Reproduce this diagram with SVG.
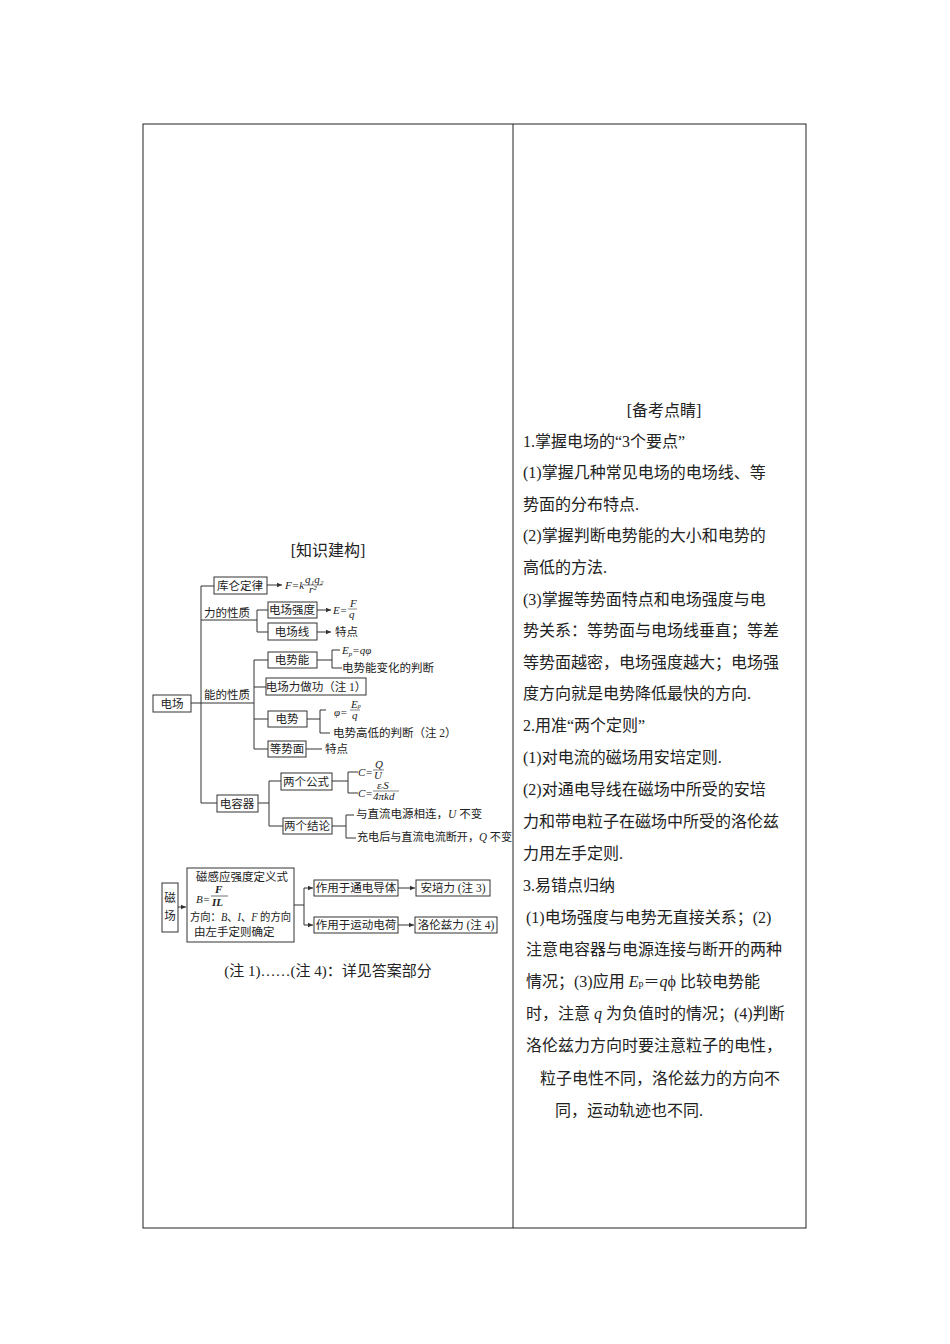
<svg xmlns="http://www.w3.org/2000/svg" width="950" height="1344" viewBox="0 0 950 1344">
<style>
text{font-family:"Liberation Serif","Noto Sans CJK SC",serif;fill:#222}
.r{font-size:16px}
.d{font-size:11.5px}
.f{font-size:11px;font-style:italic}
.b{fill:#fff;stroke:#333;stroke-width:1}
.l{fill:none;stroke:#333;stroke-width:1}
</style>
<defs><marker id="a" markerWidth="6" markerHeight="6" refX="5" refY="3" orient="auto"><path d="M0,0.8L5,3L0,5.2z" fill="#333"/></marker></defs>
<rect x="143" y="124" width="663" height="1104" fill="none" stroke="#222"/>
<line x1="513" y1="124" x2="513" y2="1228" stroke="#222"/>
<g id="right-text" class="r">
<text x="664" y="416" text-anchor="middle" class="r">[备考点睛]</text>
<text x="523" y="447" class="r">1.掌握电场的“3个要点”</text>
<text x="523" y="478" class="r">(1)掌握几种常见电场的电场线、等</text>
<text x="523" y="510" class="r">势面的分布特点.</text>
<text x="523" y="541" class="r">(2)掌握判断电势能的大小和电势的</text>
<text x="523" y="573" class="r">高低的方法.</text>
<text x="523" y="605" class="r">(3)掌握等势面特点和电场强度与电</text>
<text x="523" y="636" class="r">势关系：等势面与电场线垂直；等差</text>
<text x="523" y="668" class="r">等势面越密，电场强度越大；电场强</text>
<text x="523" y="699" class="r">度方向就是电势降低最快的方向.</text>
<text x="523" y="731" class="r">2.用准“两个定则”</text>
<text x="523" y="763" class="r">(1)对电流的磁场用安培定则.</text>
<text x="523" y="795" class="r">(2)对通电导线在磁场中所受的安培</text>
<text x="523" y="827" class="r">力和带电粒子在磁场中所受的洛伦兹</text>
<text x="523" y="859" class="r">力用左手定则.</text>
<text x="523" y="891" class="r">3.易错点归纳</text>
<text x="526" y="923" class="r">(1)电场强度与电势无直接关系；(2)</text>
<text x="526" y="955" class="r">注意电容器与电源连接与断开的两种</text>
<text x="526" y="987" class="r">情况；(3)应用 <tspan font-style="italic">E</tspan><tspan font-size="10">p</tspan>＝<tspan font-style="italic">q</tspan>ϕ 比较电势能</text>
<text x="526" y="1019" class="r">时，注意 <tspan font-style="italic">q</tspan> 为负值时的情况；(4)判断</text>
<text x="526" y="1051" class="r">洛伦兹力方向时要注意粒子的电性，</text>
<text x="540" y="1084" class="r">粒子电性不同，洛伦兹力的方向不</text>
<text x="555" y="1116" class="r">同，运动轨迹也不同.</text>
</g>
<text x="328" y="556" text-anchor="middle" class="r" font-size="15">[知识建构]</text>
<g id="connectors">
<path class="l" d="M191,703H201M201,586V803H217M201,586H214" />
<path class="l" d="M201,620H257M257,610V632M257,610H268M257,632H268"/>
<path class="l" d="M201,703H254M254,660V749H268M254,660H268M254,687H266M254,719H268"/>
<path class="l" d="M317,660H332M332,650V668H342M332,650H340"/>
<path class="l" d="M307,719H320M320,710V733H330M320,710H326"/>
<path class="l" d="M306,749H322"/>
<path class="l" d="M258,803H269M269,781V826H283M269,781H281"/>
<path class="l" d="M332,781H348M348,772V793H358M348,772H358"/>
<path class="l" d="M332,826H346M346,815V838H356M346,815H354"/>
<path class="l" marker-end="url(#a)" d="M267,585H282"/>
<path class="l" marker-end="url(#a)" d="M317,610H331"/>
<path class="l" marker-end="url(#a)" d="M317,632H331"/>
<path class="l" marker-end="url(#a)" d="M178,907H186"/>
<path class="l" d="M294,905H304M304,888V925"/>
<path class="l" marker-end="url(#a)" d="M304,888H313"/>
<path class="l" marker-end="url(#a)" d="M304,925H313"/>
<path class="l" marker-end="url(#a)" d="M398,888H415"/>
<path class="l" marker-end="url(#a)" d="M398,925H414"/>
</g>
<g id="n-dianchang"><rect class="b" x="153" y="695" width="38" height="17"/><text class="d" x="172" y="708" text-anchor="middle">电场</text></g>
<g id="n-kulun"><rect class="b" x="214" y="577" width="53" height="17"/><text class="d" x="240" y="590" text-anchor="middle">库仑定律</text></g>
<text class="f" x="285" y="589">F=k</text><text class="f" x="305" y="583" font-size="8">q₁q₂</text>
<line x1="304" y1="585" x2="322" y2="585" stroke="#333" stroke-width="0.6"/><text class="f" x="309" y="593" font-size="7">r²</text>
<text class="d" x="204" y="617">力的性质</text>
<g id="n-qiangdu"><rect class="b" x="268" y="602" width="49" height="16"/><text class="d" x="292" y="614" text-anchor="middle">电场强度</text></g>
<text class="f" x="333" y="614">E=</text><text class="f" x="350" y="607" font-size="9">F</text><line x1="348" y1="609" x2="357" y2="609" stroke="#333" stroke-width="0.6"/><text class="f" x="349" y="618" font-size="9">q</text>
<g id="n-xian"><rect class="b" x="268" y="623" width="49" height="17"/><text class="d" x="292" y="636" text-anchor="middle">电场线</text></g>
<text class="d" x="335" y="636">特点</text>
<text class="d" x="204" y="699">能的性质</text>
<g id="n-shineng"><rect class="b" x="268" y="652" width="49" height="16"/><text class="d" x="292" y="664" text-anchor="middle">电势能</text></g>
<text class="f" x="342" y="654">E<tspan font-size="7" dy="2">p</tspan><tspan dy="-2">=qφ</tspan></text>
<text class="d" x="342" y="672" font-size="11">电势能变化的判断</text>
<g id="n-zuogong"><rect class="b" x="266" y="678" width="100" height="17"/><text class="d" x="316" y="691" text-anchor="middle">电场力做功（注 1）</text></g>
<g id="n-dianshi"><rect class="b" x="268" y="711" width="39" height="16"/><text class="d" x="287" y="723" text-anchor="middle">电势</text></g>
<text class="f" x="334" y="716">φ=</text><text class="f" x="351" y="708" font-size="8">E<tspan font-size="6">p</tspan></text><line x1="350" y1="710" x2="360" y2="710" stroke="#333" stroke-width="0.6"/><text class="f" x="352" y="719" font-size="8">q</text>
<text class="d" x="333" y="737" font-size="10.5">电势高低的判断（注 2）</text>
<g id="n-dengshi"><rect class="b" x="268" y="741" width="38" height="16"/><text class="d" x="287" y="753" text-anchor="middle">等势面</text></g>
<text class="d" x="325" y="753">特点</text>
<g id="n-rongqi"><rect class="b" x="217" y="795" width="41" height="17"/><text class="d" x="237" y="808" text-anchor="middle">电容器</text></g>
<g id="n-gongshi"><rect class="b" x="281" y="773" width="51" height="17"/><text class="d" x="306" y="786" text-anchor="middle">两个公式</text></g>
<text class="f" x="358" y="776">C=</text><text class="f" x="375" y="768" font-size="9">Q</text><line x1="373" y1="770" x2="384" y2="770" stroke="#333" stroke-width="0.6"/><text class="f" x="374" y="779" font-size="9">U</text>
<text class="f" x="358" y="797">C=</text><text class="f" x="377" y="789" font-size="8">ε<tspan font-size="5">r</tspan>S</text><line x1="373" y1="791" x2="399" y2="791" stroke="#333" stroke-width="0.6"/><text class="f" x="373" y="800" font-size="8">4πkd</text>
<g id="n-jielun"><rect class="b" x="283" y="818" width="49" height="16"/><text class="d" x="307" y="830" text-anchor="middle">两个结论</text></g>
<text class="d" x="356" y="818" font-size="10">与直流电源相连，<tspan font-style="italic">U</tspan> 不变</text>
<text class="d" x="357" y="841" font-size="10" textLength="155" lengthAdjust="spacingAndGlyphs">充电后与直流电流断开，<tspan font-style="italic">Q</tspan> 不变</text>
<g id="n-cichang"><rect class="b" x="162" y="883" width="16" height="49"/><text class="d" x="170" y="902" text-anchor="middle">磁</text><text class="d" x="170" y="920" text-anchor="middle">场</text></g>
<g id="n-def"><rect class="b" x="187" y="868" width="107" height="74"/>
<text class="d" x="196" y="881">磁感应强度定义式</text>
<text class="f" x="196" y="903" font-size="12">B=</text><text class="f" x="215" y="893" font-size="11" font-weight="bold">F</text><line x1="211" y1="896" x2="228" y2="896" stroke="#333" stroke-width="0.7"/><text class="f" x="212" y="906" font-size="11" font-weight="bold">IL</text>
<text class="d" x="190" y="921" font-size="10.5" textLength="101" lengthAdjust="spacingAndGlyphs">方向：<tspan font-style="italic">B</tspan>、<tspan font-style="italic">I</tspan>、<tspan font-style="italic">F</tspan> 的方向</text>
<text class="d" x="194" y="936" font-size="11">由左手定则确定</text></g>
<g id="n-daoti"><rect class="b" x="314" y="880" width="84" height="16"/><text class="d" x="356" y="892" text-anchor="middle" font-size="10.5">作用于通电导体</text></g>
<g id="n-dianhe"><rect class="b" x="314" y="917" width="84" height="16"/><text class="d" x="356" y="929" text-anchor="middle" font-size="10.5">作用于运动电荷</text></g>
<g id="n-anpei"><rect class="b" x="416" y="880" width="74" height="16"/><text class="d" x="453" y="892" text-anchor="middle" font-size="10.5">安培力 (注 3)</text></g>
<g id="n-luolun"><rect class="b" x="415" y="917" width="82" height="16"/><text class="d" x="456" y="929" text-anchor="middle" font-size="10.5">洛伦兹力 (注 4)</text></g>
<text x="328" y="976" text-anchor="middle" font-size="15">(注 1)……(注 4)：详见答案部分</text>
</svg>
